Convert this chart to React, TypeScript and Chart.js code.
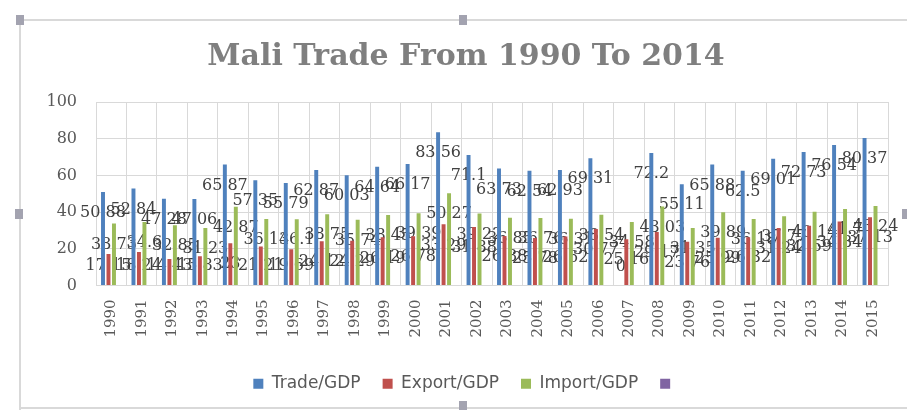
import React, { useEffect, useRef } from "react";
import { Chart, registerables } from "chart.js";

Chart.register(...registerables);

const years = [
  "1990", "1991", "1992", "1993", "1994", "1995", "1996", "1997", "1998",
  "1999", "2000", "2001", "2002", "2003", "2004", "2005", "2006", "2007",
  "2008", "2009", "2010", "2011", "2012", "2013", "2014", "2015",
];

const tradeGDP = [
  50.88, 52.84, 47.28, 47.06, 65.87, 57.35, 55.79, 62.87, 60.03, 64.64,
  66.17, 83.56, 71.1, 63.73, 62.54, 62.93, 69.31, 0, 72.2, 55.11, 65.88,
  62.5, 69.01, 72.73, 76.54, 80.37,
];

const exportGDP = [
  17.15, 18.24, 14.43, 15.83, 23.0, 21.21, 19.69, 24.12, 24.29, 26.19,
  26.78, 33.29, 31.88, 26.88, 25.78, 26.62, 30.77, 25.16, 29.17, 23.76,
  25.99, 26.32, 31.24, 32.59, 34.84, 37.13,
];

const importGDP = [
  33.73, 34.6, 32.85, 31.23, 42.87, 36.14, 36.1, 38.75, 35.74, 38.45,
  39.39, 50.27, 39.22, 36.85, 36.76, 36.31, 38.54, 34.58, 43.03, 31.35,
  39.89, 36.18, 37.77, 40.14, 41.7, 43.24,
];

const fourthSeries: (number | null)[] = years.map(() => null);

const seriesNames = ["Trade/GDP", "Export/GDP", "Import/GDP", ""];
const seriesColors = ["#4F81BD", "#C0504D", "#9BBB59", "#8064A2"];
const yTicks = [0, 20, 40, 60, 80, 100];

const labelPlugin = {
  id: "valueLabels",
  beforeDatasetsDraw(chart: any) {
    const ctx = chart.ctx;
    ctx.save();
    ctx.font = "16px 'DejaVu Serif'";
    ctx.fillStyle = "#404040";
    ctx.textAlign = "center";
    ctx.textBaseline = "middle";
    for (let i = 0; i < 3; i++) {
      const meta = chart.getDatasetMeta(i);
      const data = chart.data.datasets[i].data;
      meta.data.forEach((el: any, j: number) => {
        const v = data[j];
        if (v == null) return;
        const y = Math.min(el.y + 21, el.base - 19);
        ctx.fillText(String(v), el.x, y);
      });
    }
    ctx.restore();
  },
};

const handle = (cx: number, cy: number): React.CSSProperties => ({
  position: "absolute",
  left: cx - 4,
  top: cy - 5,
  width: 8,
  height: 10,
  background: "#a3a3b0",
});

export default function App() {
  const canvasRef = useRef<HTMLCanvasElement | null>(null);

  useEffect(() => {
    if (!canvasRef.current) return;
    const chart = new Chart(canvasRef.current, {
      type: "bar",
      data: {
        labels: years,
        datasets: [tradeGDP, exportGDP, importGDP, fourthSeries].map((d, i) => ({
          label: seriesNames[i],
          data: d,
          backgroundColor: seriesColors[i],
          borderWidth: 0,
          categoryPercentage: 0.72,
          barPercentage: 0.72,
        })),
      },
      options: {
        responsive: false,
        animation: false,
        layout: { padding: { left: 44, right: 19, top: 28, bottom: 7.8 } },
        plugins: {
          title: {
            display: true,
            text: "Mali Trade From 1990 To 2014",
            color: "#7f7f7f",
            font: { family: "'DejaVu Serif'", size: 30, weight: "bold" },
            padding: { top: 11, bottom: 27 },
          },
          legend: {
            position: "bottom",
            labels: {
              boxWidth: 10,
              boxHeight: 10,
              color: "#595959",
              font: { family: "'DejaVu Sans'", size: 17 },
              padding: 22,
            },
          },
          tooltip: { enabled: false },
        },
        scales: {
          x: {
            grid: { color: "#d9d9d9", drawTicks: false, offset: true },
            border: { color: "#d9d9d9" },
            ticks: {
              minRotation: 90,
              maxRotation: 90,
              autoSkip: false,
              color: "#595959",
              font: { family: "'DejaVu Serif'", size: 15 },
              padding: 14,
            },
            afterFit: (s: any) => {
              s.height = 67.8;
            },
          },
          y: {
            min: 0,
            max: 100,
            afterBuildTicks: (s: any) => {
              s.ticks = yTicks.map((v) => ({ value: v }));
            },
            ticks: {
              color: "#595959",
              font: { family: "'DejaVu Serif'", size: 16 },
              padding: 19,
            },
            grid: { color: "#d9d9d9", drawTicks: false },
            border: { display: false },
            afterFit: (s: any) => {
              s.width = 52;
            },
          },
        },
      },
      plugins: [labelPlugin],
    } as any);
    return () => chart.destroy();
  }, []);

  return (
    <div
      style={{
        position: "absolute",
        left: 0,
        top: 0,
        width: 907,
        height: 410,
        background: "#ffffff",
        overflow: "hidden",
      }}
    >
      <canvas ref={canvasRef} width={907} height={410} style={{ display: "block" }} />
      <div style={{ position: "absolute", left: 20, top: 19, width: 887, height: 2, background: "#d9d9d9" }} />
      <div style={{ position: "absolute", left: 19, top: 20, width: 2, height: 390, background: "#d9d9d9" }} />
      <div style={{ position: "absolute", left: 20, top: 407, width: 887, height: 2, background: "#d9d9d9" }} />
      <div style={handle(20, 20)} />
      <div style={handle(463, 20)} />
      <div style={handle(19, 214)} />
      <div style={handle(463, 406)} />
      <div style={handle(906, 214)} />
    </div>
  );
}
